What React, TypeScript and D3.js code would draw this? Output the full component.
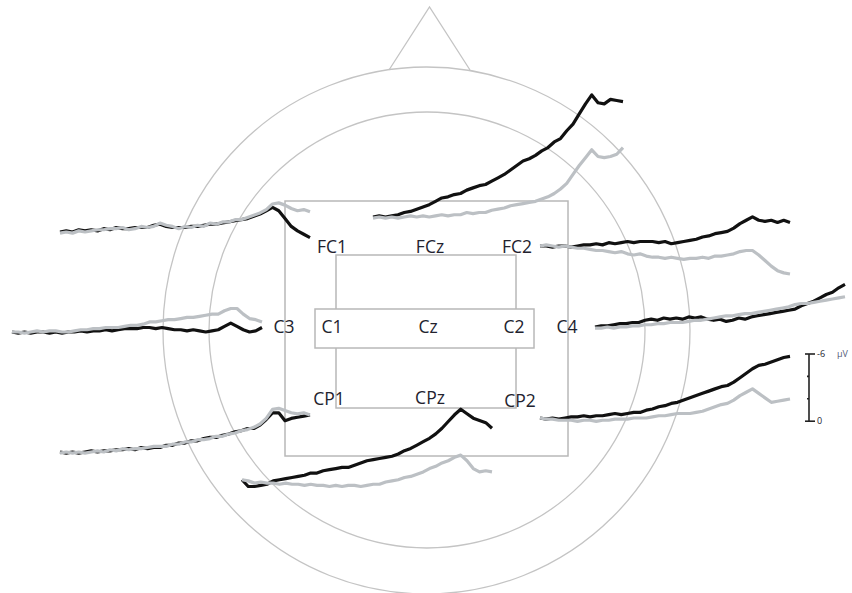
import * as d3 from "d3";

// sample times (ms before movement onset), one value per sample
const sampleMs = d3.range(-2000, 1, 50);

// amplitudes in µV (negative plotted upward)
const fc1Black = [0, -0.1, 0, -0.2, -0.1, -0.2, -0.1, -0.3, -0.2, -0.4, -0.3, -0.3, -0.4, -0.4, -0.4, -0.6, -0.7, -0.5, -0.4, -0.4, -0.4, -0.5, -0.5, -0.6, -0.7, -0.7, -0.8, -0.9, -1.0, -1.1, -1.2, -1.4, -1.6, -1.9, -2.2, -1.9, -1.2, -0.5, -0.1, 0.2, 0.5];
const fc1Gray = [0.1, 0, 0.1, -0.1, 0, -0.1, -0.2, -0.2, -0.3, -0.3, -0.4, -0.2, -0.3, -0.5, -0.4, -0.5, -0.8, -0.6, -0.5, -0.3, -0.5, -0.4, -0.6, -0.5, -0.8, -0.7, -0.9, -0.9, -1.1, -1.1, -1.3, -1.5, -1.7, -2.0, -2.5, -2.6, -2.4, -2.1, -1.9, -2.0, -1.8];
const fczBlack = [0, -0.1, 0, -0.1, -0.2, -0.4, -0.5, -0.7, -0.9, -1.1, -1.4, -1.7, -1.8, -2.0, -2.1, -2.4, -2.6, -2.8, -2.9, -3.2, -3.5, -3.8, -4.2, -4.6, -5.0, -5.2, -5.5, -5.9, -6.2, -6.7, -7.0, -7.7, -8.3, -9.2, -10.1, -10.9, -10.2, -10.1, -10.5, -10.4, -10.3];
const fczGray = [0.1, 0, 0.1, 0, 0.1, 0, -0.1, 0, -0.1, 0, -0.1, -0.2, -0.1, -0.2, -0.2, -0.4, -0.3, -0.4, -0.4, -0.6, -0.7, -0.8, -1.0, -1.1, -1.2, -1.3, -1.4, -1.6, -1.8, -2.1, -2.5, -3.0, -3.8, -4.6, -5.3, -6.0, -5.4, -5.3, -5.4, -5.6, -6.2];
const fc2Black = [0, 0, 0.1, 0, 0, 0.1, 0, -0.1, -0.1, -0.2, -0.1, -0.3, -0.2, -0.3, -0.4, -0.3, -0.4, -0.4, -0.4, -0.3, -0.4, -0.2, -0.3, -0.4, -0.5, -0.6, -0.8, -0.9, -1.1, -1.2, -1.3, -1.6, -2.0, -2.3, -2.6, -2.3, -2.2, -2.3, -2.1, -2.3, -2.1];
const fc2Gray = [0, -0.1, 0, 0.1, 0, 0.1, 0.2, 0.2, 0.3, 0.4, 0.4, 0.5, 0.6, 0.5, 0.7, 0.8, 0.7, 0.9, 1.0, 1.0, 1.1, 1.0, 1.1, 1.2, 1.1, 1.1, 1.0, 1.1, 0.9, 0.9, 0.8, 0.7, 0.5, 0.4, 0.4, 0.8, 1.3, 1.8, 2.2, 2.4, 2.5];
const c3Black = [0, 0.1, 0, 0.1, 0, 0, 0.1, 0, 0.1, 0, 0, -0.1, 0, -0.1, -0.1, -0.2, -0.1, -0.2, -0.3, -0.3, -0.3, -0.4, -0.4, -0.3, -0.4, -0.3, -0.2, -0.2, -0.1, -0.2, -0.1, 0, -0.1, -0.2, -0.5, -0.8, -0.5, -0.2, 0, -0.1, -0.4];
const c3Gray = [0, 0, 0.1, 0, -0.1, 0, -0.1, -0.1, 0, 0, -0.1, -0.2, -0.2, -0.3, -0.3, -0.4, -0.4, -0.4, -0.5, -0.6, -0.6, -0.7, -0.9, -0.9, -1.0, -1.1, -1.1, -1.2, -1.3, -1.3, -1.4, -1.5, -1.6, -1.6, -1.9, -2.1, -2.1, -1.6, -1.2, -1.1, -0.9];
const c4Black = [0, -0.1, -0.1, -0.2, -0.3, -0.3, -0.4, -0.4, -0.6, -0.7, -0.6, -0.8, -0.7, -0.8, -0.7, -0.9, -0.8, -0.9, -0.7, -0.6, -0.7, -0.5, -0.6, -0.8, -0.7, -0.9, -1.0, -1.1, -1.2, -1.3, -1.4, -1.5, -1.6, -1.9, -2.1, -2.3, -2.6, -2.9, -3.1, -3.5, -3.8];
const c4Gray = [0.1, 0.1, 0, 0.1, 0, 0, -0.1, -0.1, -0.2, -0.2, -0.3, -0.3, -0.4, -0.4, -0.4, -0.5, -0.6, -0.6, -0.7, -0.8, -0.9, -1.0, -1.0, -1.1, -1.2, -1.2, -1.3, -1.4, -1.5, -1.6, -1.7, -1.8, -2.0, -2.1, -2.1, -2.2, -2.3, -2.4, -2.5, -2.6, -2.7];
const cp1Black = [0, 0.1, 0, 0.1, 0, -0.1, 0, -0.1, -0.1, -0.2, -0.2, -0.3, -0.2, -0.4, -0.3, -0.4, -0.4, -0.6, -0.6, -0.8, -0.8, -1.0, -1.0, -1.2, -1.3, -1.3, -1.5, -1.6, -1.8, -1.9, -2.1, -2.1, -2.4, -2.9, -3.5, -3.5, -2.8, -3.0, -3.1, -3.2, -3.3];
const cp1Gray = [0.1, 0, 0.1, 0, 0.1, 0, -0.1, 0, -0.2, -0.1, -0.3, -0.2, -0.3, -0.3, -0.4, -0.5, -0.5, -0.5, -0.7, -0.7, -0.9, -0.9, -1.1, -1.1, -1.2, -1.4, -1.4, -1.6, -1.7, -1.9, -2.0, -2.2, -2.5, -3.0, -3.8, -3.9, -3.7, -3.5, -3.4, -3.5, -3.3];
const cpzBlack = [-0.2, 0.4, 0.4, 0.3, 0.2, -0.1, -0.2, -0.3, -0.4, -0.5, -0.6, -0.8, -0.8, -1.0, -1.1, -1.2, -1.3, -1.3, -1.5, -1.7, -1.9, -2.0, -2.1, -2.2, -2.3, -2.5, -2.8, -3.0, -3.3, -3.6, -3.9, -4.3, -4.8, -5.4, -6.0, -6.5, -6.1, -5.7, -5.5, -5.3, -4.8];
const cpzGray = [-0.2, -0.1, 0.1, 0, 0.1, 0.1, 0.2, 0.1, 0.2, 0.2, 0.3, 0.2, 0.3, 0.3, 0.4, 0.3, 0.4, 0.3, 0.3, 0.4, 0.3, 0.2, 0.2, 0, -0.1, -0.2, -0.4, -0.5, -0.7, -0.9, -1.2, -1.4, -1.7, -1.9, -2.2, -2.4, -1.9, -1.2, -0.9, -1.0, -0.9];
const cp2Black = [0, 0.1, 0, 0.1, 0, -0.1, -0.1, -0.2, -0.1, -0.2, -0.2, -0.3, -0.4, -0.3, -0.4, -0.5, -0.5, -0.7, -0.8, -1.0, -1.1, -1.3, -1.4, -1.6, -1.8, -2.0, -2.2, -2.4, -2.6, -2.8, -2.9, -3.2, -3.6, -4.0, -4.4, -4.7, -4.8, -5.0, -5.2, -5.4, -5.5];
const cp2Gray = [0, 0.1, 0.1, 0.2, 0.2, 0.2, 0.3, 0.2, 0.2, 0.3, 0.2, 0.2, 0.1, 0.1, 0.1, 0, 0, 0, -0.1, -0.2, -0.2, -0.3, -0.4, -0.4, -0.4, -0.5, -0.6, -0.8, -1.0, -1.2, -1.3, -1.6, -2.0, -2.3, -2.6, -2.2, -1.8, -1.4, -1.5, -1.6, -1.7];

const electrodes = ["FC1", "FCz", "FC2", "C3", "C4", "CP1", "CPz", "CP2"];
const blackSeries = [fc1Black, fczBlack, fc2Black, c3Black, c4Black, cp1Black, cpzBlack, cp2Black];
const graySeries = [fc1Gray, fczGray, fc2Gray, c3Gray, c4Gray, cp1Gray, cpzGray, cp2Gray];

// scale bar ticks in µV
const scaleTicks = [-6, -4, -2, 0];

// where each trace sits on the head (left x, y of 0 µV)
const traceOrigin: Record<string, [number, number]> = {
  FC1: [60, 232], FCz: [373, 217], FC2: [540, 246],
  C3: [12, 332], C4: [595, 327],
  CP1: [60, 452], CPz: [242, 482], CP2: [540, 418],
};

// electrode labels (centre x, baseline y)
const labelPos: [string, number, number][] = [
  ["FC1", 332, 253], ["FCz", 430, 253], ["FC2", 517, 253],
  ["C3", 284, 333], ["C1", 332, 333], ["Cz", 428, 333], ["C2", 514, 333], ["C4", 567, 333],
  ["CP1", 329, 405], ["CPz", 430, 404], ["CP2", 520, 407],
];

const W = 852, H = 593;
const traceWidth = 250;
const pxPerUv = 11.2;
const gridColor = "#c4c4c4";
const textColor = "#22222e";

export default function App() {
  const lines = electrodes.map((name, k) => {
    const [x0, y0] = traceOrigin[name];
    const x = d3.scaleLinear().domain(d3.extent(sampleMs) as [number, number]).range([x0, x0 + traceWidth]);
    const y = d3.scaleLinear().domain([-6, 0]).range([y0 - 6 * pxPerUv, y0]);
    const line = d3.line<number>().x((_, i) => x(sampleMs[i])).y(v => y(v));
    return { name, black: line(blackSeries[k]) || "", gray: line(graySeries[k]) || "" };
  });

  const barY = d3.scaleLinear().domain([-6, 0]).range([354, 354 + 6 * pxPerUv]);
  const barX = 809;

  return (
    <svg width={W} height={H} style={{ position: "absolute", left: 0, top: 0, background: "#fff" }}
      fontFamily="'Open Sans', 'Noto Sans', sans-serif">
      {/* head */}
      <path d="M389,70 L429.5,7 L470,70" fill="none" stroke={gridColor} strokeWidth={1.3} />
      <circle cx={426.5} cy={330.5} r={263.5} fill="none" stroke={gridColor} strokeWidth={1.3} />
      <circle cx={427} cy={330} r={218} fill="none" stroke={gridColor} strokeWidth={1.3} />

      {/* boxes */}
      <rect x={285} y={201} width={283} height={255} fill="none" stroke="#b8b8b8" strokeWidth={1.5} />
      <rect x={336} y={255} width={180} height={153} fill="none" stroke="#b8b8b8" strokeWidth={1.5} />
      <rect x={315} y={309} width={219} height={39} fill="#fff" stroke="#b8b8b8" strokeWidth={1.5} />

      {/* traces */}
      {lines.map(l => (
        <g key={l.name}>
          <path d={l.black} fill="none" stroke="#111" strokeWidth={3.2} strokeLinejoin="round" />
          <path d={l.gray} fill="none" stroke="#bcc0c4" strokeWidth={3.2} strokeLinejoin="round" />
        </g>
      ))}

      {/* labels */}
      {labelPos.map(([t, x, y]) => (
        <text key={t} x={x} y={y} textAnchor="middle" fontSize={17.5} fill={textColor}>{t}</text>
      ))}

      {/* scale bar */}
      <g stroke="#222" strokeWidth={1.6}>
        <line x1={barX} x2={barX} y1={barY(-6)} y2={barY(0)} />
        {scaleTicks.map(t => (
          <line key={t} x1={t === -6 || t === 0 ? barX - 4 : barX - 2} x2={t === -6 || t === 0 ? barX + 6 : barX}
            y1={barY(t)} y2={barY(t)} />
        ))}
      </g>
      <text x={817} y={barY(-6) + 3} fontSize={9} fill={textColor}>-6</text>
      <text x={837} y={barY(-6) + 3} fontSize={9} fill="#55607a">µV</text>
      <text x={817} y={barY(0) + 3} fontSize={9} fill={textColor}>0</text>
    </svg>
  );
}
